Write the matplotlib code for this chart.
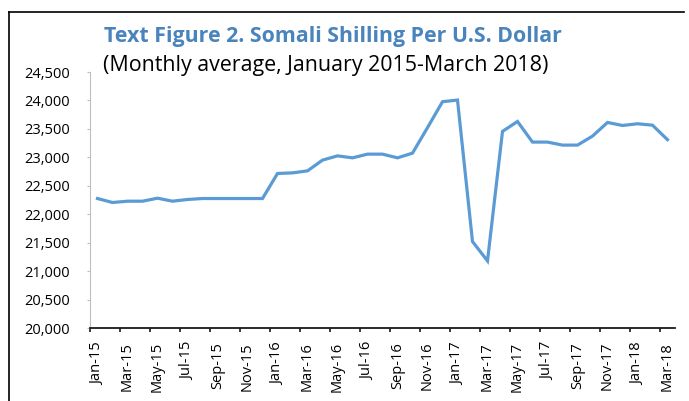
import numpy as np
import matplotlib.pyplot as plt
from matplotlib.lines import Line2D

plt.rcParams['font.family'] = ['Open Sans', 'DejaVu Sans']

months = ['Jan-15', 'Feb-15', 'Mar-15', 'Apr-15', 'May-15', 'Jun-15', 'Jul-15', 'Aug-15',
          'Sep-15', 'Oct-15', 'Nov-15', 'Dec-15', 'Jan-16', 'Feb-16', 'Mar-16', 'Apr-16',
          'May-16', 'Jun-16', 'Jul-16', 'Aug-16', 'Sep-16', 'Oct-16', 'Nov-16', 'Dec-16',
          'Jan-17', 'Feb-17', 'Mar-17', 'Apr-17', 'May-17', 'Jun-17', 'Jul-17', 'Aug-17',
          'Sep-17', 'Oct-17', 'Nov-17', 'Dec-17', 'Jan-18', 'Feb-18', 'Mar-18']

# shillings per USD
rate = [22276, 22206, 22229, 22229, 22282, 22229, 22259, 22276,
        22276, 22276, 22276, 22276, 22716, 22727, 22762, 22951,
        23026, 22991, 23056, 23056, 22991, 23074, 23522, 23978,
        24007, 21519, 21180, 23456, 23630, 23268, 23268, 23215,
        23215, 23373, 23613, 23560, 23590, 23565, 23310]

y_ticks = [20000, 20500, 21000, 21500, 22000, 22500, 23000, 23500, 24000, 24500]
y_labels = ['20,000', '20,500', '21,000', '21,500', '22,000', '22,500',
            '23,000', '23,500', '24,000', '24,500']

W, H = 689, 401
fig = plt.figure(figsize=(W / 100, H / 100), dpi=100)
ax = fig.add_axes([90 / W, 1 - 328 / H, (675 - 90) / W, (328 - 72) / H])

x = np.arange(len(months))
ax.plot(x, rate, color='#5B9BD5', lw=2.3, solid_joinstyle='miter')

ax.set_xlim(-0.5, len(months) - 0.5)
ax.set_ylim(20000, 24500)
ax.set_yticks(y_ticks)
ax.set_yticklabels(y_labels)
ax.set_xticks(x[::2])
ax.set_xticklabels(months[::2], rotation=90)
ax.set_xticks(np.arange(-0.5, len(months) - 1, 2), minor=True)

for s in ['top', 'right']:
    ax.spines[s].set_visible(False)
ax.spines['left'].set_color('#BFBFBF')
ax.spines['bottom'].set_color('#1a1a1a')
ax.spines['bottom'].set_linewidth(1.3)

ax.tick_params(axis='y', direction='out', length=2.5, color='#BFBFBF', pad=12, labelsize=10.5)
ax.tick_params(axis='x', which='major', length=0, pad=10, labelsize=10.5)
ax.tick_params(axis='x', which='minor', direction='out', length=3, width=1.2, color='#1a1a1a')

fig.text(104 / W, 1 - 42 / H, 'Text Figure 2. Somali Shilling Per U.S. Dollar',
         fontsize=15.4, fontweight='bold', color='#4A84BC', ha='left', va='baseline')
fig.text(103 / W, 1 - 71 / H, '(Monthly average, January 2015-March 2018)',
         fontsize=15.4, color='black', ha='left', va='baseline')

# frame around the chart (top and left edge only visible)
fig.add_artist(Line2D([9 / W, 684 / W], [1 - 12 / H, 1 - 12 / H], color='black', lw=1.2))
fig.add_artist(Line2D([9 / W, 9 / W], [1 - 12 / H, 0], color='black', lw=1.2))

fig.savefig('out.png', dpi=100)
